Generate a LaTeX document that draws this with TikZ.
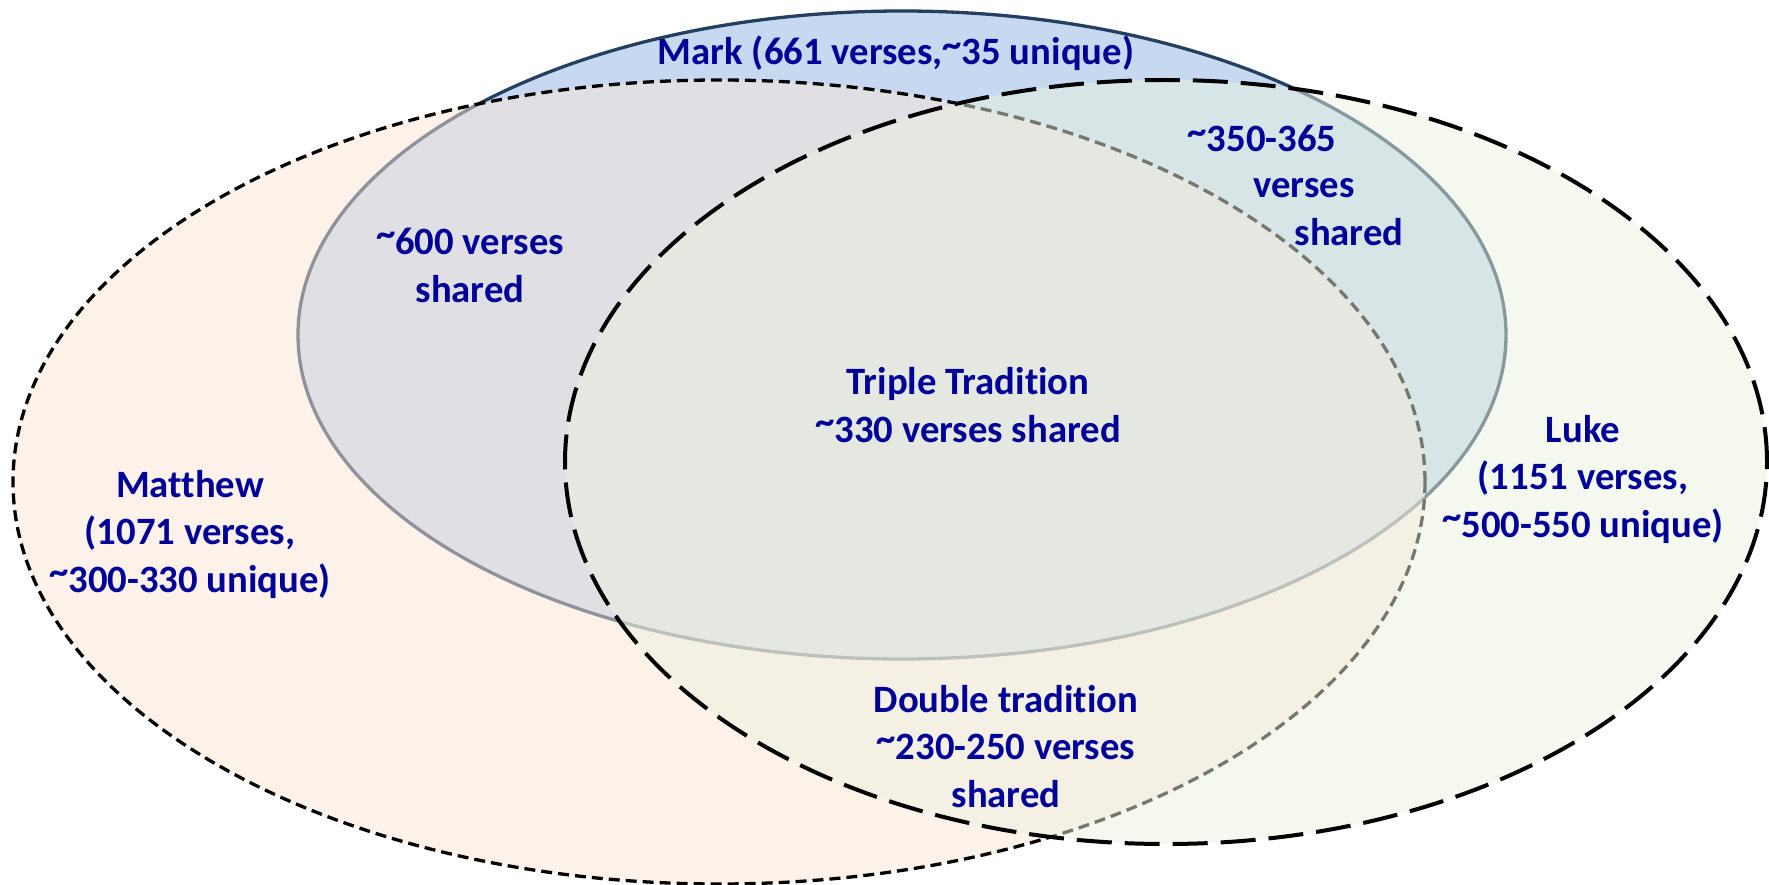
\documentclass[tikz,border=0pt]{standalone}
\usepackage{fontspec}
\setmainfont[Ligatures={NoCommon}]{Carlito}
\usetikzlibrary{shapes.geometric}
\definecolor{markfill}{HTML}{C6D9F1}
\definecolor{markline}{HTML}{243F60}
\definecolor{mattfill}{HTML}{FBE5D6}
\definecolor{lukefill}{HTML}{EBF1DE}
\definecolor{txtblue}{HTML}{000099}
\newcommand\tld{\raisebox{0.2em}{\textasciitilde}}
\tikzset{
  venn/.style={ellipse, inner sep=0pt, outer sep=0pt},
  markset/.style={venn, fill=markfill, draw=markline, line width=3.3pt},
  mattset/.style={venn, fill=mattfill, fill opacity=0.5, draw=black, draw opacity=1, line width=3.3pt, dash pattern=on 11pt off 6pt},
  lukeset/.style={venn, fill=lukefill, fill opacity=0.5, draw=black, draw opacity=1, line width=4pt, dash pattern=on 35pt off 13pt},
  lbl/.style={font=\fontsize{38.7}{47.5}\selectfont\bfseries, text=txtblue, align=center, inner sep=0pt, anchor=base},
}
\begin{document}
\begin{tikzpicture}[x=1pt,y=-1pt]
\useasboundingbox (0,0) rectangle (1769,885);
\node[markset, minimum width=1208pt, minimum height=648pt] (mark) at (902,335) {};
\node[mattset, minimum width=1412pt, minimum height=804pt] (matthew) at (719,482) {};
\node[lukeset, minimum width=1202pt, minimum height=764pt] (luke) at (1166,462) {};

\node[lbl] (markl) at (896,65) {Mark (661 verses,\tld35 unique)};
\node[lbl] (mm) at (470,302) {\tld600 verses\\shared};
\node[lbl] (ml1) at (1262,152) {\tld350-365};
\node[lbl] (ml2) at (1304,198) {verses};
\node[lbl] (ml3) at (1349,246) {shared};
\node[lbl] (triple) at (968,442) {Triple Tradition\\\tld330 verses shared};
\node[lbl] (mattl) at (190,592) {Matthew\\(1071 verses,\\\tld300-330 unique)};
\node[lbl] (lukel) at (1583,537) {Luke\\(1151 verses,\\\tld500-550 unique)};
\node[lbl] (double) at (1006,807) {Double tradition\\\tld230-250 verses\\shared};
\end{tikzpicture}
\end{document}
